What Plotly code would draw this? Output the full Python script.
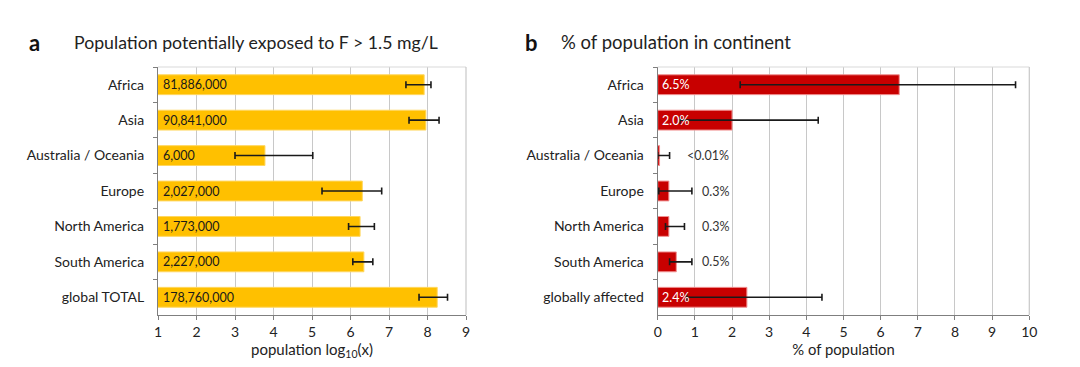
import numpy as np
import plotly.graph_objects as go

# ---------------- data ----------------
regions_a = ["Africa", "Asia", "Australia / Oceania", "Europe", "North America",
             "South America", "global TOTAL"]
population = [81886000, 90841000, 6000, 2027000, 1773000, 2227000, 178760000]
pop_labels = ["81,886,000", "90,841,000", "6,000", "2,027,000", "1,773,000",
              "2,227,000", "178,760,000"]
log_low = [7.44, 7.52, 3.00, 5.26, 5.95, 6.06, 7.78]
log_high = [8.09, 8.30, 5.02, 6.81, 6.62, 6.58, 8.52]

regions_b = ["Africa", "Asia", "Australia / Oceania", "Europe", "North America",
             "South America", "globally affected"]
pct = [6.5, 2.0, 0.05, 0.3, 0.3, 0.5, 2.4]
pct_labels = ["6.5%", "2.0%", "<0.01%", "0.3%", "0.3%", "0.5%", "2.4%"]
pct_inside = [True, True, False, False, False, False, True]
pct_low = [2.22, 0.60, 0.00, 0.03, 0.21, 0.32, 0.78]
pct_high = [9.63, 4.32, 0.32, 0.92, 0.72, 0.92, 4.42]

# ---------------- styling ----------------
FONT = "Lato"
W, H = 1080, 367
YELLOW = "#FFC000"
RED = "#C80000"
GRID = "#c8c8c8"
AXIS = "#7f7f7f"
TXT = "#1a1a1a"


def px(x):
    return x / W


def py(y):
    return 1 - y / H


log_vals = np.log10(population)

fig = go.Figure()

fig.add_trace(go.Bar(
    y=regions_a, x=log_vals, orientation="h",
    marker=dict(color=YELLOW, line=dict(color="#ffd760", width=1)),
    error_x=dict(type="data", symmetric=False,
                 array=[h - v for h, v in zip(log_high, log_vals)],
                 arrayminus=[v - l for l, v in zip(log_low, log_vals)],
                 color="#1a1a1a", thickness=1.6, width=3.5),
    xaxis="x", yaxis="y", showlegend=False, hoverinfo="skip"))

fig.add_trace(go.Bar(
    y=regions_b, x=pct, orientation="h",
    marker=dict(color=RED, line=dict(color="#f09090", width=1)),
    error_x=dict(type="data", symmetric=False,
                 array=[h - v for h, v in zip(pct_high, pct)],
                 arrayminus=[v - l for l, v in zip(pct_low, pct)],
                 color="#1a1a1a", thickness=1.6, width=3.5),
    xaxis="x2", yaxis="y2", showlegend=False, hoverinfo="skip"))

annotations = []
for r, lab in zip(regions_a, pop_labels):
    annotations.append(dict(x=1, y=r, xref="x", yref="y", text=lab,
                            xanchor="left", xshift=3, showarrow=False,
                            font=dict(family=FONT, size=12.5, color=TXT)))
for r, lab, ins in zip(regions_b, pct_labels, pct_inside):
    if ins:
        annotations.append(dict(x=0, y=r, xref="x2", yref="y2", text=lab,
                                xanchor="left", xshift=2, showarrow=False,
                                font=dict(family=FONT, size=12.5, color="white")))
    else:
        annotations.append(dict(x=1.92, y=r, xref="x2", yref="y2", text=lab,
                                xanchor="right", xshift=2, showarrow=False,
                                font=dict(family=FONT, size=12.5, color="#333333")))

# panel titles
annotations += [
    dict(x=px(27), y=py(43), xref="paper", yref="paper", text="<b>a</b>",
         xanchor="left", yanchor="middle", showarrow=False,
         font=dict(family=FONT, size=22, color="#111111")),
    dict(x=px(72), y=py(42), xref="paper", yref="paper",
         text="Population potentially exposed to F &gt; 1.5 mg/L",
         xanchor="left", yanchor="middle", showarrow=False,
         font=dict(family=FONT, size=17.7, color="#222222")),
    dict(x=px(523), y=py(43), xref="paper", yref="paper", text="<b>b</b>",
         xanchor="left", yanchor="middle", showarrow=False,
         font=dict(family=FONT, size=22, color="#111111")),
    dict(x=px(559), y=py(42), xref="paper", yref="paper",
         text="% of population in continent",
         xanchor="left", yanchor="middle", showarrow=False,
         font=dict(family=FONT, size=18.5, color="#222222")),
]

dom_y = [py(315), py(67)]
xa_common = dict(showgrid=True, gridcolor=GRID, gridwidth=1, zeroline=False,
                 showline=True, linecolor=AXIS, linewidth=1.2, ticks="outside",
                 ticklen=4, tickcolor=AXIS, dtick=1, automargin=False,
                 tickfont=dict(family=FONT, size=14, color="#222222"),
                 fixedrange=True)
ya_common = dict(showgrid=False, showline=True, linecolor=AXIS, linewidth=1.2,
                 ticks="outside", ticklen=4, tickcolor=AXIS, tickson="boundaries",
                 autorange="reversed", ticklabelstandoff=10, automargin=False,
                 tickfont=dict(family=FONT, size=14, color="#222222"),
                 fixedrange=True)

fig.update_layout(
    width=W, height=H, margin=dict(l=0, r=0, t=0, b=0, pad=0),
    paper_bgcolor="white", plot_bgcolor="white", bargap=0.44,
    xaxis=dict(domain=[px(158), px(466)], range=[1, 9], anchor="y",
               title=dict(text="population log<sub>10</sub>(x)", standoff=5,
                          font=dict(family=FONT, size=15, color="#222222")),
               **xa_common),
    yaxis=dict(domain=dom_y, anchor="x", **ya_common),
    xaxis2=dict(domain=[px(657.7), px(1029.3)], range=[0, 10], anchor="y2",
                title=dict(text="% of population", standoff=5,
                           font=dict(family=FONT, size=14.8, color="#222222")),
                **xa_common),
    yaxis2=dict(domain=dom_y, anchor="x2", **ya_common),
    annotations=annotations,
    shapes=[
        dict(type="line", xref="x domain", yref="y domain", x0=0, x1=1, y0=1, y1=1,
             line=dict(color="#d9d9d9", width=1.2)),
        dict(type="line", xref="x domain", yref="y domain", x0=1, x1=1, y0=0, y1=1,
             line=dict(color="#c8c8c8", width=1.2)),
        dict(type="line", xref="x2 domain", yref="y2 domain", x0=0, x1=1, y0=1, y1=1,
             line=dict(color="#d9d9d9", width=1.2)),
        dict(type="line", xref="x2 domain", yref="y2 domain", x0=1, x1=1, y0=0, y1=1,
             line=dict(color="#c8c8c8", width=1.2)),
    ],
)

fig.write_html(
    "out.html",
    config={"displayModeBar": False},
    post_script="document.body.style.margin='0';document.body.style.overflow='hidden';",
)
